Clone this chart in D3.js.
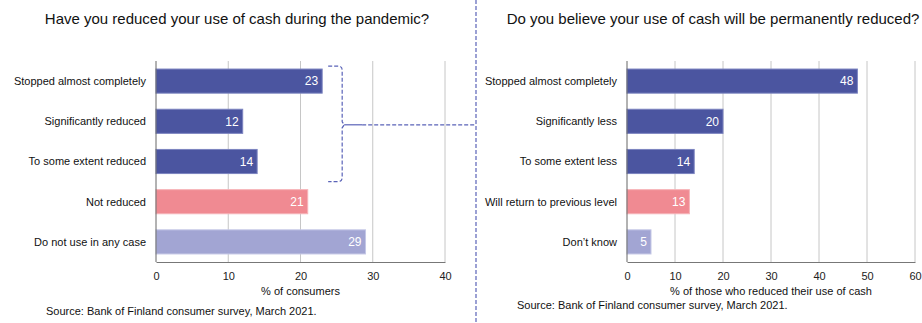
<!DOCTYPE html>
<html>
<head>
<meta charset="utf-8">
<script src="https://cdn.jsdelivr.net/npm/d3@7"></script>
<style>
  html, body { margin: 0; padding: 0; background: #fff; }
  svg { display: block; font-family: "Liberation Sans", Arial, sans-serif; }
</style>
</head>
<body>
<svg id="chart" width="922" height="323"></svg>
<script>
// Survey answers, left panel (% of consumers)
const leftTitle = "Have you reduced your use of cash during the pandemic?";
const leftCategories = ["Stopped almost completely", "Significantly reduced", "To some extent reduced", "Not reduced", "Do not use in any case"];
const leftValues = [23, 12, 14, 21, 29];
const leftGroups = ["reduced", "reduced", "reduced", "not", "none"];
const leftTicks = [0, 10, 20, 30, 40];
const leftAxisTitle = "% of consumers";

// Survey answers, right panel (% of those who reduced their use of cash)
const rightTitle = "Do you believe your use of cash will be permanently reduced?";
const rightCategories = ["Stopped almost completely", "Significantly less", "To some extent less", "Will return to previous level", "Don\u2019t know"];
const rightValues = [48, 20, 14, 13, 5];
const rightGroups = ["reduced", "reduced", "reduced", "not", "none"];
const rightTicks = [0, 10, 20, 30, 40, 50, 60];
const rightAxisTitle = "% of those who reduced their use of cash";

const sourceText = "Source: Bank of Finland consumer survey, March 2021.";

const fills = { reduced: "#4b55a0", not: "#f08a92", none: "#a2a5d3" };
const strokes = { reduced: "#7c84c0", not: "#f6b3b8", none: "#c4c7e6" };
const dashColor = "#5a63b8";

const svg = d3.select("#chart");

function panel(opt) {
  const g = svg.append("g");
  const x = d3.scaleLinear().domain([0, d3.max(opt.ticks)]).range([opt.x0, opt.x1]);
  const y = d3.scaleBand().domain(opt.categories).range([61, 262]).paddingInner(0.4).paddingOuter(0.2);

  // title
  g.append("text")
    .attr("x", opt.titleX).attr("y", 23.5)
    .attr("text-anchor", "middle")
    .attr("font-size", 15).attr("fill", "#111")
    .text(opt.title);

  // vertical gridlines
  g.append("g").selectAll("line")
    .data(opt.ticks.filter(t => t > 0))
    .join("line")
    .attr("x1", d => x(d)).attr("x2", d => x(d))
    .attr("y1", 61).attr("y2", 262)
    .attr("stroke", "#c6c6c6").attr("stroke-width", 1);

  // bars
  const data = opt.categories.map((c, i) => ({ c, v: opt.values[i], grp: opt.groups[i] }));
  g.append("g").selectAll("rect")
    .data(data)
    .join("rect")
    .attr("x", x(0))
    .attr("y", d => y(d.c))
    .attr("width", d => x(d.v) - x(0))
    .attr("height", y.bandwidth())
    .attr("fill", d => fills[d.grp])
    .attr("stroke", d => strokes[d.grp])
    .attr("stroke-width", 1);

  // value labels inside bars
  g.append("g").selectAll("text")
    .data(data)
    .join("text")
    .attr("x", d => x(d.v) - 4)
    .attr("y", d => y(d.c) + y.bandwidth() / 2)
    .attr("dy", "0.36em")
    .attr("text-anchor", "end")
    .attr("font-size", 12).attr("fill", "#fff")
    .text(d => d.v);

  // category labels
  g.append("g").selectAll("text")
    .data(data)
    .join("text")
    .attr("x", x(0) - 10)
    .attr("y", d => y(d.c) + y.bandwidth() / 2)
    .attr("dy", "0.35em")
    .attr("text-anchor", "end")
    .attr("font-size", 11).attr("fill", "#111")
    .text(d => d.c);

  // bottom axis
  const ax = g.append("g")
    .attr("transform", "translate(0,262)")
    .call(d3.axisBottom(x).tickValues(opt.ticks).tickSize(0).tickPadding(10).tickFormat(d3.format("d")));
  ax.select(".domain").attr("stroke", "#777").attr("stroke-width", 1);
  ax.selectAll("text").attr("font-size", 11).attr("fill", "#222").attr("font-family", "Liberation Sans, Arial, sans-serif");

  // left axis line
  g.append("line")
    .attr("x1", x(0)).attr("x2", x(0))
    .attr("y1", 61).attr("y2", 262)
    .attr("stroke", "#666").attr("stroke-width", 1);

  // axis title
  g.append("text")
    .attr("x", (opt.x0 + opt.x1) / 2).attr("y", 294.5)
    .attr("text-anchor", "middle")
    .attr("font-size", 11).attr("fill", "#111")
    .text(opt.axisTitle);

  // source note
  g.append("text")
    .attr("x", opt.sourceX).attr("y", opt.sourceY)
    .attr("font-size", 11).attr("fill", "#111")
    .text(sourceText);

  return { x, y };
}

const L = panel({
  title: leftTitle, titleX: 237, categories: leftCategories, values: leftValues, groups: leftGroups,
  ticks: leftTicks, axisTitle: leftAxisTitle, x0: 156, x1: 445, sourceX: 46, sourceY: 315
});

panel({
  title: rightTitle, titleX: 713, categories: rightCategories, values: rightValues, groups: rightGroups,
  ticks: rightTicks, axisTitle: rightAxisTitle, x0: 627, x1: 915, sourceX: 517, sourceY: 309
});

// bracket grouping the three "reduced" answers and linking them to the right panel
const sepX = 476;
const reducedMax = d3.max(leftValues.slice(0, 3));
const bx0 = L.x(reducedMax) + 6;
const bx1 = bx0 + 14;
const bTop = L.y(leftCategories[0]) - 3;
const bBot = L.y(leftCategories[2]) + L.y.bandwidth() + 8;
const bMid = (bTop + bBot) / 2 + 1;
const r = 4;

const bracket = d3.path();
bracket.moveTo(bx0, bTop);
bracket.lineTo(bx1 - r, bTop);
bracket.quadraticCurveTo(bx1, bTop, bx1, bTop + r);
bracket.lineTo(bx1, bMid - 3);
bracket.lineTo(bx1 + 2, bMid);
bracket.lineTo(bx1, bMid + 3);
bracket.lineTo(bx1, bBot - r);
bracket.quadraticCurveTo(bx1, bBot, bx1 - r, bBot);
bracket.lineTo(bx0, bBot);

svg.append("path")
  .attr("d", bracket.toString())
  .attr("fill", "none")
  .attr("stroke", dashColor).attr("stroke-width", 1.2)
  .attr("stroke-dasharray", "4,2");

svg.append("line")
  .attr("x1", bx1 + 2).attr("x2", bx1 + 20)
  .attr("y1", bMid).attr("y2", bMid)
  .attr("stroke", dashColor).attr("stroke-width", 1.2);

svg.append("line")
  .attr("x1", bx1 + 20).attr("x2", sepX)
  .attr("y1", bMid).attr("y2", bMid)
  .attr("stroke", dashColor).attr("stroke-width", 1.2)
  .attr("stroke-dasharray", "4,2");

// dashed divider between the panels
svg.append("line")
  .attr("x1", sepX).attr("x2", sepX)
  .attr("y1", 0).attr("y2", 323)
  .attr("stroke", dashColor).attr("stroke-width", 1.2)
  .attr("stroke-dasharray", "4,2");
</script>
</body>
</html>
